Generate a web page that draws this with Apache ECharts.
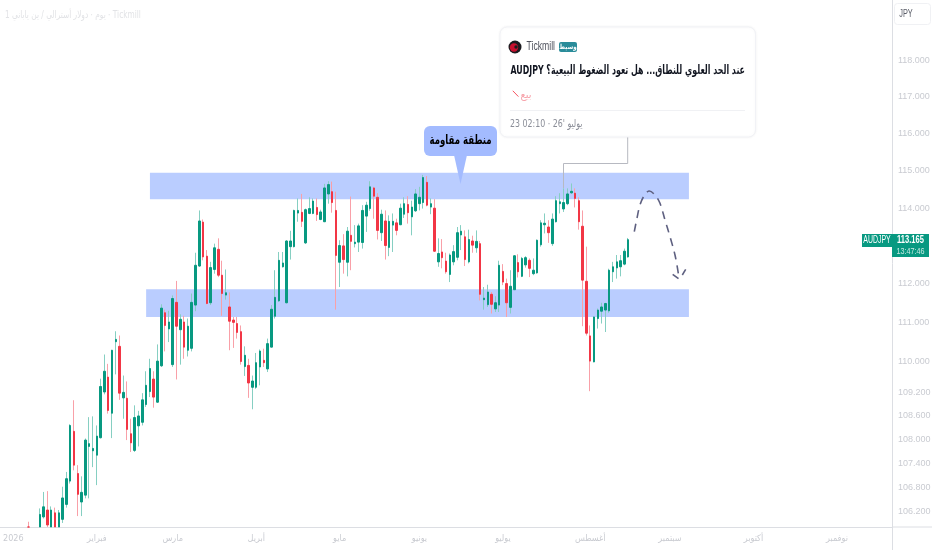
<!DOCTYPE html>
<html><head><meta charset="utf-8">
<style>html,body{margin:0;padding:0;background:#fff}#c{width:932px;height:550px}</style>
<script src="https://cdn.jsdelivr.net/npm/echarts@6/dist/echarts.min.js"></script>
</head><body><div id="c"></div>
<script>
const priceTicks=[118,117,116,115,114,112,111,110,109.2,108.6,108,107.4,106.8,106.2];
const monthLabels=['2026','فبراير','مارس','أبريل','مايو','يونيو','يوليو','أغسطس','سبتمبر','أكتوبر','نوفمبر'];
const monthSlots=[3,25,45,67,89,110,132,155,176,198,220];
const slotCount=235;
const firstSlot=7;
const opens=[105.82,null,null,105.82,106.07,106.24,105.82,106.17,105.82,106.01,106.38,106.96,108.21,107.15,106.44,106.61,107.83,107.72,107.61,108.05,109.21,109.59,108.67,110.50,110.38,109.06,109.05,108.15,107.73,108.35,108.44,108.89,109.22,109.54,108.95,109.88,111.25,110.83,109.91,111.52,110.81,111.01,110.28,110.33,111.45,112.47,113.63,112.73,111.51,112.38,112.91,112.23,111.71,111.40,111.06,110.97,110.76,109.86,109.89,109.33,109.33,109.85,110.02,109.80,110.36,111.16,111.56,112.45,111.51,112.98,112.98,113.87,113.89,113.08,113.86,113.86,114.02,113.70,113.64,114.38,114.44,113.94,112.57,113.00,112.57,113.28,113.06,113.10,113.09,113.79,113.99,114.54,114.29,113.35,113.66,112.96,113.55,113.61,113.56,113.84,114.10,113.77,113.93,114.12,114.15,114.69,114.03,114.00,112.58,112.84,112.60,112.25,112.58,112.70,113.29,113.24,112.58,113.13,112.95,113.06,111.59,111.46,111.73,111.35,111.45,112.33,112.01,111.39,111.85,112.56,112.20,112.50,112.62,112.27,112.29,113.03,113.56,113.50,113.06,113.64,114.12,113.98,114.12,114.41,114.40,114.20,113.52,112.07,110.65,109.98,111.10,111.29,111.32,111.30,112.32,112.42,112.45,112.52,112.71];
const closes=[105.82,null,null,106.13,106.32,105.87,106.24,105.82,106.17,106.54,107.02,108.36,107.36,106.63,106.68,107.99,107.90,107.78,108.09,109.35,109.74,108.74,110.28,110.56,109.18,109.20,108.26,107.92,108.56,108.60,109.01,109.38,109.81,109.08,110.00,111.37,110.92,111.01,111.62,110.90,111.08,110.36,110.90,111.52,112.49,113.66,112.71,111.49,112.43,112.95,112.23,111.75,111.77,111.03,111.00,110.74,109.99,110.15,109.44,109.49,109.96,110.26,109.96,110.45,111.34,111.65,112.62,112.55,113.13,113.13,113.94,113.94,113.65,113.96,113.99,114.19,113.83,113.90,114.54,114.63,114.15,112.75,113.01,112.64,113.39,113.12,113.10,113.53,113.94,114.08,114.57,114.32,113.41,113.84,113.01,113.65,113.65,113.41,114.00,114.12,113.88,114.03,114.38,114.29,114.82,114.08,114.12,112.86,112.80,112.69,112.32,112.76,112.85,113.35,113.39,112.64,113.17,113.02,113.12,111.73,111.63,111.79,111.47,111.51,112.49,112.05,111.51,111.94,112.74,112.32,112.67,112.69,112.41,112.36,113.15,113.61,113.60,113.35,113.71,114.20,114.17,114.15,114.38,114.45,114.26,113.64,112.10,110.72,110.00,111.14,111.32,111.40,111.49,112.36,112.45,112.58,112.61,112.86,113.165];
const lows=[105.82,null,null,105.82,106.03,105.82,105.82,105.82,105.82,105.92,106.30,106.90,107.23,106.09,106.09,106.53,106.53,107.31,106.86,108.03,109.15,108.66,108.04,109.66,109.01,108.53,107.99,107.69,107.69,107.83,108.36,108.83,109.08,108.81,108.93,109.85,110.25,110.49,109.85,109.53,109.91,110.06,110.12,110.25,111.29,112.45,112.62,111.47,111.45,112.27,112.18,111.17,111.59,110.28,110.34,110.58,109.91,109.62,109.06,108.77,109.29,109.38,109.85,109.72,110.35,111.10,111.53,112.43,111.49,112.64,112.96,113.64,113.50,113.05,113.84,113.84,113.66,113.68,113.63,114.12,113.88,111.33,111.92,112.27,112.20,112.36,112.96,112.84,112.93,113.37,113.93,113.72,113.17,113.13,112.64,112.73,112.84,113.28,113.55,113.74,113.59,113.28,113.90,113.94,113.99,114.05,113.84,112.84,112.45,112.41,112.27,112.05,112.49,112.62,112.89,112.47,112.54,112.82,112.82,111.57,111.33,111.40,111.23,111.27,111.27,111.97,111.14,111.23,111.84,112.17,112.18,112.43,112.18,112.23,112.27,112.98,113.33,113.08,113.00,113.62,113.86,113.90,114.08,114.38,114.02,113.43,110.90,110.66,109.23,109.97,110.84,110.97,110.75,111.25,112.05,112.14,112.20,112.49,112.69];
const highs=[105.95,null,null,106.28,106.69,106.71,106.33,106.30,106.24,106.82,107.19,108.39,109.00,107.36,107.08,108.03,108.57,108.59,108.36,109.55,110.17,109.93,110.29,110.77,110.66,109.63,109.48,108.53,108.87,108.73,109.18,109.74,110.06,109.74,110.43,111.47,111.33,111.30,111.70,112.08,111.21,111.17,111.10,111.75,112.82,113.94,113.70,112.89,112.58,113.06,113.20,112.61,112.38,111.78,111.14,111.14,110.92,110.38,110.06,109.63,110.21,110.30,110.32,110.58,111.45,112.36,112.84,112.84,113.15,113.40,113.96,114.26,114.38,113.99,114.29,114.26,114.26,113.96,114.65,114.72,114.71,114.44,113.15,113.31,113.50,114.31,113.55,113.59,114.08,114.17,114.72,114.57,114.40,113.96,113.94,113.81,113.86,113.72,114.12,114.29,114.32,114.20,114.51,114.57,114.89,114.86,114.26,114.24,113.20,113.18,112.82,112.80,113.02,113.50,113.55,113.41,113.43,113.27,113.41,113.13,111.92,111.98,111.79,111.68,112.61,112.52,112.14,112.36,112.76,112.78,112.71,112.73,112.67,112.67,113.17,113.68,113.86,113.68,113.86,114.32,114.40,114.53,114.53,114.66,114.53,114.29,113.94,112.98,110.92,111.15,111.36,111.51,111.51,112.40,112.58,112.76,112.76,112.93,113.21];
const zones=[{low:114.24,high:114.95,from:39,to:181},{low:111.14,high:111.86,from:38,to:181}];
const lastPrice='113.165';
const countdown='13:47:46';
const symbol='AUDJPY';
const currency='JPY';
const headerText='1 يوم · دولار أسترالي / ين ياباني · Tickmill';
const cardAuthor='Tickmill';
const cardBadge='وسيط';
const cardTitle='\u202Bعند الحد العلوي للنطاق... هل تعود الضغوط البيعية؟ AUDJPY\u202C';
const cardSide='بيع';
const cardDate="23 02:10 · 26' يوليو";
const calloutText='منطقة مقاومة';

const UP='#089981',DOWN='#F23645',UPW='#86cfc2',DOWNW='#f9a0a8';
const LABEL='#c9cbd1';
const SANS='"Liberation Sans",sans-serif';
const AR='"DejaVu Sans",sans-serif';
const ARC='"DejaVu Sans Condensed","DejaVu Sans",sans-serif';

const cats=[];for(let i=0;i<slotCount;i++)cats.push('');
monthSlots.forEach((s,k)=>cats[s]=monthLabels[k]);
const wicks=[],bodies=[];
for(let i=0;i<slotCount;i++){
  const k=i-firstSlot;
  if(k<0||k>=opens.length||opens[k]==null){wicks.push(['-','-','-','-']);bodies.push(['-','-','-','-']);continue;}
  const o=opens[k],c=closes[k];
  wicks.push([o,c,lows[k],highs[k]]);
  bodies.push([o,c,Math.min(o,c),Math.max(o,c)]);
}
const area=zones.map(z=>[{xAxis:z.from,yAxis:z.high},{xAxis:z.to,yAxis:z.low}]);

const g=(o)=>Object.assign({silent:true,z:100},o);
const dashPts=[[634.3,231.7],[637,218],[640,205],[644,196],[649,191],[655,195],[660,203.3],[665,220],[670,236.7],[675,255],[678.3,273.3]];
const elements=[
 g({type:'line',shape:{x1:892.5,y1:527,x2:892.5,y2:550},style:{stroke:'#dcdee3',lineWidth:1}}),
 g({type:'line',shape:{x1:892.5,y1:527,x2:932,y2:527},style:{stroke:'#dcdee3',lineWidth:1}}),
 g({type:'text',x:5,y:15,scaleX:0.74,style:{text:headerText,fill:'#e2e3e6',font:'10px '+AR,textVerticalAlign:'middle'}}),
 // currency box
 g({type:'rect',shape:{x:894.5,y:3.5,width:36,height:21,r:3},style:{fill:'#fff',stroke:'#f0f1f4'}}),
 g({type:'text',x:906,y:14,scaleX:0.7,style:{text:currency,fill:'#5a5d68',font:'10.5px '+SANS,textAlign:'center',textVerticalAlign:'middle'}}),
 // last price tags
 g({type:'rect',shape:{x:862,y:234,width:30,height:13},style:{fill:UP}}),
 g({type:'text',x:877,y:240.5,scaleX:0.66,style:{text:symbol,fill:'#fff',font:'10.5px '+SANS,textAlign:'center',textVerticalAlign:'middle'}}),
 g({type:'rect',shape:{x:892,y:234,width:37,height:23},style:{fill:UP}}),
 g({type:'text',x:910.5,y:240.5,scaleX:0.72,style:{text:lastPrice,fill:'#fff',font:'bold 10.5px '+SANS,textAlign:'center',textVerticalAlign:'middle'}}),
 g({type:'text',x:910.5,y:251.5,scaleX:0.76,style:{text:countdown,fill:'#c6e9e2',font:'9.5px '+SANS,textAlign:'center',textVerticalAlign:'middle'}}),
 // connector
 g({type:'polyline',shape:{points:[[627.7,137],[627.7,163.5],[563.5,163.5],[563.5,188]]},style:{stroke:'#b7b9c1',lineWidth:1,fill:null}}),
 // card
 g({type:'rect',z:101,shape:{x:500,y:27,width:255.5,height:110,r:7},style:{fill:'#fff',stroke:'#f1f2f6',shadowBlur:3,shadowColor:'rgba(0,0,0,0.05)'}}),
 g({type:'circle',z:102,shape:{cx:515,cy:47,r:6.5},style:{fill:'#1b1b1f'}}),
 g({type:'circle',z:102,shape:{cx:514,cy:47.5,r:4.2},style:{fill:'#c8102e'}}),
 g({type:'circle',z:102,shape:{cx:516,cy:47,r:1.7},style:{fill:'#1b1b1f'}}),
 g({type:'text',z:102,x:526.5,y:46.5,scaleX:0.72,style:{text:cardAuthor,fill:'#50535e',font:'12px '+SANS,textVerticalAlign:'middle'}}),
 g({type:'rect',z:102,shape:{x:559,y:42,width:18,height:10,r:2},style:{fill:'#2a8c9a'}}),
 g({type:'text',z:103,x:568,y:47,scaleX:0.8,style:{text:cardBadge,fill:'#fff',font:'bold 7px '+AR,textAlign:'center',textVerticalAlign:'middle'}}),
 g({type:'text',z:102,x:745,y:71,scaleX:0.63,style:{text:cardTitle,fill:'#131722',font:'bold 12.5px '+AR,textAlign:'right',textVerticalAlign:'middle'}}),
 g({type:'line',z:102,shape:{x1:512.8,y1:90.8,x2:518.4,y2:96.6},style:{stroke:'#f7525f',lineWidth:1}}),
 g({type:'text',z:102,x:531.5,y:95,style:{text:cardSide,fill:'#f7a0a8',font:'10px '+AR,textAlign:'right',textVerticalAlign:'middle'}}),
 g({type:'line',z:102,shape:{x1:510,y1:110.5,x2:745,y2:110.5},style:{stroke:'#f0f1f4',lineWidth:1}}),
 g({type:'text',z:102,x:510,y:124,scaleX:0.75,style:{text:cardDate,fill:'#8a8d97',font:'10.5px '+AR,textVerticalAlign:'middle'}}),
 // callout
 g({type:'polygon',shape:{points:[[454,155],[467,155],[460.5,184]]},style:{fill:'#a3bbff'}}),
 g({type:'rect',shape:{x:424,y:126,width:73,height:30,r:6},style:{fill:'#a3bbff'}}),
 g({type:'text',x:460.5,y:140.5,scaleX:0.66,style:{text:calloutText,fill:'#000',font:'bold 13px '+AR,textAlign:'center',textVerticalAlign:'middle'}}),
 // forecast path
 g({type:'polyline',shape:{points:dashPts,smooth:0.35},style:{stroke:'#5e6080',lineWidth:1.6,lineDash:[8,6],fill:null}}),
 g({type:'line',shape:{x1:672.7,y1:274.3,x2:678.5,y2:278.7},style:{stroke:'#5e6080',lineWidth:1.6}}),
 g({type:'line',shape:{x1:682.3,y1:275,x2:685.7,y2:269.3},style:{stroke:'#5e6080',lineWidth:1.6}})
];

const chart=echarts.init(document.getElementById('c'),null,{renderer:'canvas'});
chart.setOption({
 animation:false,
 backgroundColor:'#fff',
 grid:{left:0,right:40,top:0,bottom:23,containLabel:false,outerBoundsMode:'none'},
 xAxis:{type:'category',data:cats,boundaryGap:true,
  axisLine:{show:true,lineStyle:{color:'#dcdee3',width:1}},axisTick:{show:false},splitLine:{show:false},
  axisLabel:{interval:(i,v)=>v!=='',color:LABEL,fontSize:9,fontFamily:ARC,margin:7,hideOverlap:false}},
 yAxis:{type:'log',position:'right',min:105.82,max:119.68,logBase:Math.E,scale:true,
  axisLine:{show:true,lineStyle:{color:'#dcdee3',width:1}},axisTick:{show:false},splitLine:{show:false},minorTick:{show:false},
  axisLabel:{customValues:priceTicks,color:LABEL,fontSize:9,fontFamily:SANS,margin:6,formatter:v=>(+v).toFixed(3)}},
 series:[
  {type:'candlestick',name:'wicks',data:wicks,barWidth:1,silent:true,z:3,
   itemStyle:{color:UPW,color0:DOWNW,borderColor:UPW,borderColor0:DOWNW,borderWidth:1},
   markArea:{silent:true,z:1,itemStyle:{color:'#bacdff',opacity:1},data:area,label:{show:false}}},
  {type:'candlestick',name:symbol,data:bodies,barWidth:2,silent:true,z:4,
   itemStyle:{color:UP,color0:DOWN,borderColor:UP,borderColor0:DOWN,borderWidth:1}}
 ],
 graphic:{elements}
});
</script></body></html>
